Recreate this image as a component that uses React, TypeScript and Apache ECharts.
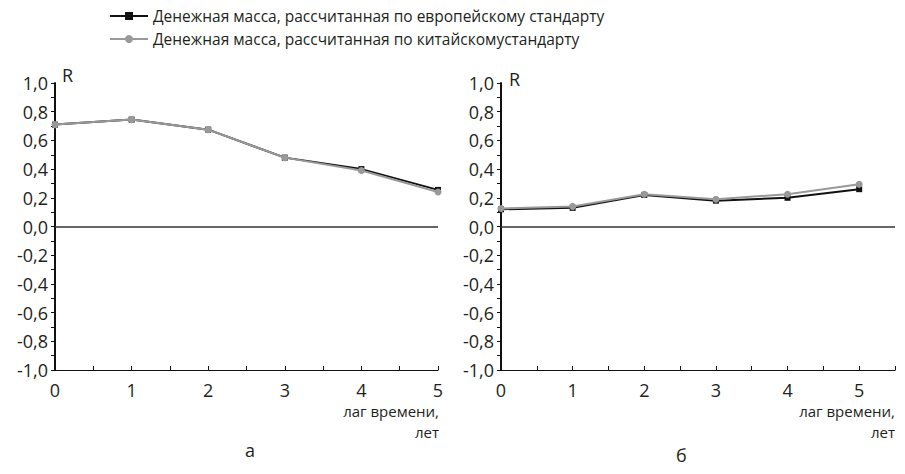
import React, { useEffect, useRef } from "react";
import * as echarts from "echarts";

const lags = [0, 1, 2, 3, 4, 5];
const euroA = [0.71, 0.745, 0.675, 0.48, 0.4, 0.255];
const chinaA = [0.71, 0.745, 0.675, 0.48, 0.39, 0.24];
const euroB = [0.12, 0.13, 0.22, 0.18, 0.2, 0.26];
const chinaB = [0.125, 0.14, 0.225, 0.19, 0.225, 0.295];
const seriesNames = [
  "Денежная масса, рассчитанная по европейскому стандарту",
  "Денежная масса, рассчитанная по китайскомустандарту",
];
const panelLabels = ["а", "б"];
const xName = ["лаг времени,", "лет"];
const yName = "R";

const FONT = "'Open Sans', 'Noto Sans', sans-serif";
const TXT = "#231f20";

export default function App() {
  const ref = useRef<HTMLDivElement>(null);
  useEffect(() => {
    if (!ref.current) return;
    const chart = echarts.init(ref.current, undefined, { renderer: "svg" });
    const grids = [
      { left: 55, right: 467, top: 83, bottom: 104 },
      { left: 501, right: 10, top: 83, bottom: 104 },
    ];
    const xMax = [5, 5.5];
    const yAxisCfg = (gi: number) => ({
      type: "value",
      gridIndex: gi,
      min: -1,
      max: 1,
      interval: 0.1,
      splitLine: { show: false },
      axisLine: { show: true, onZero: false, lineStyle: { color: "#111", width: 2 } },
      axisTick: { show: true, inside: false, length: 4, lineStyle: { color: "#111", width: 1 } },
      axisLabel: {
        color: TXT,
        fontFamily: FONT,
        fontSize: 18,
        margin: 7,
        formatter: (v: number) => {
          const k = Math.round(v * 10);
          if (k % 2 !== 0) return "";
          return (k / 10).toFixed(1).replace(".", ",");
        },
      },
    });
    const xAxisCfg = (gi: number) => ({
      type: "value",
      gridIndex: gi,
      min: 0,
      max: xMax[gi],
      interval: 0.5,
      splitLine: { show: false },
      axisLine: { show: true, onZero: false, lineStyle: { color: "#111", width: 1.2 } },
      axisTick: { show: true, inside: true, length: 4, lineStyle: { color: "#111", width: 1 } },
      axisLabel: {
        color: TXT,
        fontFamily: FONT,
        fontSize: 18,
        margin: 11,
        showMaxLabel: true,
        formatter: (v: number) => (Math.abs(v - Math.round(v)) < 1e-6 ? String(Math.round(v)) : ""),
      },
    });
    const mk = (name: string, data: number[], gi: number, black: boolean, withZero: boolean) => ({
      type: "line",
      name,
      xAxisIndex: gi,
      yAxisIndex: gi,
      data: lags.map((l, i) => [l, data[i]]),
      symbol: black ? "rect" : "circle",
      symbolSize: black ? 6 : 7,
      z: black ? 3 : 4,
      lineStyle: { color: black ? "#111" : "#999", width: 2 },
      itemStyle: { color: black ? "#111" : "#999" },
      markLine: withZero
        ? {
            silent: true,
            symbol: "none",
            label: { show: false },
            lineStyle: { color: "#333", width: 1.5, type: "solid" },
            data: [{ yAxis: 0 }],
          }
        : undefined,
    });
    const texts: any[] = [];
    [0, 1].forEach((gi) => {
      texts.push({
        type: "text",
        left: gi === 0 ? 62 : 509,
        top: gi === 0 ? 66 : 70,
        style: { text: yName, fill: TXT, font: `18px ${FONT}` },
      });
      const rx = gi === 0 ? 439 : 895;
      texts.push({
        type: "text",
        right: 905 - rx,
        top: 403,
        style: { text: xName[0], fill: TXT, font: `15px ${FONT}`, textAlign: "right" },
      });
      texts.push({
        type: "text",
        right: 905 - rx,
        top: 424,
        style: { text: xName[1], fill: TXT, font: `15px ${FONT}`, textAlign: "right" },
      });
      texts.push({
        type: "text",
        left: gi === 0 ? 245 : 676,
        top: gi === 0 ? 441 : 446,
        style: { text: panelLabels[gi], fill: TXT, font: `18px ${FONT}` },
      });
    });
    chart.setOption({
      animation: false,
      backgroundColor: "#fff",
      legend: {
        orient: "vertical",
        left: 104,
        top: 3,
        itemWidth: 38,
        itemHeight: 10,
        itemGap: 7,
        data: seriesNames,
        textStyle: { color: TXT, fontFamily: FONT, fontSize: 15.5 },
      },
      grid: grids,
      xAxis: [xAxisCfg(0), xAxisCfg(1)],
      yAxis: [yAxisCfg(0), yAxisCfg(1)],
      series: [
        mk(seriesNames[0], euroA, 0, true, true),
        mk(seriesNames[1], chinaA, 0, false, false),
        mk(seriesNames[0], euroB, 1, true, true),
        mk(seriesNames[1], chinaB, 1, false, false),
      ],
      graphic: texts,
    });
    return () => chart.dispose();
  }, []);
  return <div ref={ref} style={{ width: 905, height: 474, position: "absolute", left: 0, top: 0 }} />;
}
